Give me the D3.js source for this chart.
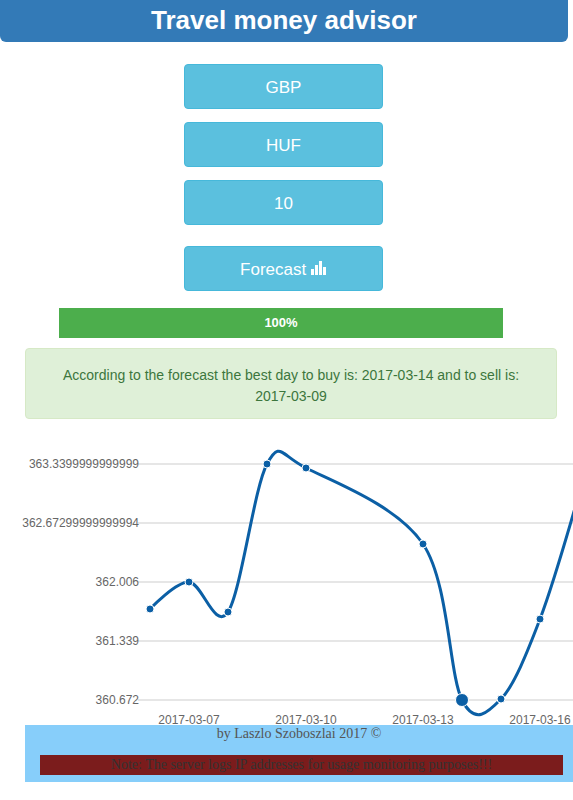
<!DOCTYPE html>
<html lang="en">
<head>
<meta charset="UTF-8">
<title>Travel money advisor</title>
<script src="https://d3js.org/d3.v7.min.js"></script>
<style>
  body { margin: 0; width: 573px; height: 800px; overflow: hidden; font-family: "Liberation Sans", Arial, sans-serif; background: #fff; position: relative; }
  .hdr { position: absolute; left: 0; top: 0; width: 568px; height: 42px; background: #337ab7; border-radius: 0 0 6px 6px; color: #fff; font-weight: bold; font-size: 26px; text-align: center; line-height: 40px; }
  .btn { position: absolute; left: 184px; width: 199px; height: 45px; background: #5bc0de; border: 1px solid #46b8da; border-radius: 4px; color: #fff; font-size: 17px; text-align: center; line-height: 45px; box-sizing: border-box; }
  .prog { position: absolute; left: 59px; top: 308px; width: 444px; height: 30px; background: #4cae4c; color: #fff; font-weight: bold; font-size: 13px; text-align: center; line-height: 30px; }
  .alert { position: absolute; left: 25px; top: 348px; width: 532px; height: 71px; background: #dff0d8; border: 1px solid #d6e9c6; border-radius: 4px; color: #3c763d; font-size: 14px; text-align: center; line-height: 21px; box-sizing: border-box; padding: 16px 20px 0; }
  .foot { position: absolute; left: 25px; top: 725px; width: 548px; height: 57px; background: #87cefa; font-family: "Liberation Serif", "Times New Roman", serif; }
  .foot .by { text-align: center; color: #555; font-size: 14px; margin-top: 1px; }
  .foot .note { position: absolute; left: 15px; top: 30px; width: 523px; height: 20px; background: #7b1c1c; color: #333; font-size: 14px; text-align: center; line-height: 20px; }
  svg { position: absolute; left: 0; top: 440px; }
</style>
</head>
<body>
<div class="hdr">Travel money advisor</div>
<div class="btn" style="top:64px">GBP</div>
<div class="btn" style="top:122px">HUF</div>
<div class="btn" style="top:180px">10</div>
<div class="btn" style="top:246px">Forecast <svg id="icon" width="16" height="16" style="position:static;vertical-align:-1px"></svg></div>
<div class="prog">100%</div>
<div class="alert">According to the forecast the best day to buy is: 2017-03-14 and to sell is: 2017-03-09</div>
<svg id="chart" width="573" height="290"></svg>
<div class="foot">
  <div class="by">by Laszlo Szoboszlai 2017 ©</div>
  <div class="note">Note: The server logs IP addresses for usage monitoring purposes!!!</div>
</div>
<script>
  var dates = ['2017-03-06', '2017-03-07', '2017-03-08', '2017-03-09', '2017-03-10',
               '2017-03-13', '2017-03-14', '2017-03-15', '2017-03-16', '2017-03-17'];
  var rates = [361.701, 362.006, 361.667, 363.34, 363.295, 362.436, 360.672, 360.683, 361.587, 363.0];
  var yTicks = [360.672, 361.339, 362.006, 362.67299999999994, 363.3399999999999];
  var xTicks = ['2017-03-07', '2017-03-10', '2017-03-13', '2017-03-16'];
  var bestBuy = '2017-03-14';

  // small bar chart icon on the Forecast button
  d3.select('#icon').selectAll('rect')
    .data([6, 10, 14, 8])
    .enter().append('rect')
    .attr('x', function (d, i) { return i * 4; })
    .attr('y', function (d) { return 15 - d; })
    .attr('width', 3)
    .attr('height', function (d) { return d; })
    .attr('fill', '#fff');

  var parse = d3.timeParse('%Y-%m-%d');
  var svg = d3.select('#chart');

  var x = d3.scaleTime()
    .domain([parse('2017-03-06'), parse('2017-03-17')])
    .range([150, 579]);
  var y = d3.scaleLinear()
    .domain([360.672, 363.3399999999999])
    .range([260, 24]);

  var grid = svg.append('g');
  grid.selectAll('line')
    .data(yTicks)
    .enter().append('line')
    .attr('x1', 138).attr('x2', 573)
    .attr('y1', function (d) { return y(d); })
    .attr('y2', function (d) { return y(d); })
    .attr('stroke', '#e6e6e6')
    .attr('stroke-width', 2);

  grid.selectAll('text')
    .data(yTicks)
    .enter().append('text')
    .attr('x', 139).attr('y', function (d) { return y(d) + 4; })
    .attr('text-anchor', 'end')
    .attr('fill', '#666')
    .attr('font-size', '12px')
    .text(function (d) { return String(d); });

  svg.append('g').selectAll('text')
    .data(xTicks)
    .enter().append('text')
    .attr('x', function (d) { return x(parse(d)); })
    .attr('y', 284)
    .attr('text-anchor', 'middle')
    .attr('fill', '#666')
    .attr('font-size', '12px')
    .text(function (d) { return d; });

  var pts = dates.map(function (d, i) { return { date: parse(d), key: d, v: rates[i] }; });

  var line = d3.line()
    .x(function (d) { return x(d.date); })
    .y(function (d) { return y(d.v); })
    .curve(d3.curveCardinal);

  svg.append('path')
    .datum(pts)
    .attr('d', line)
    .attr('fill', 'none')
    .attr('stroke', '#0b5fa5')
    .attr('stroke-width', 3);

  svg.append('g').selectAll('circle')
    .data(pts)
    .enter().append('circle')
    .attr('cx', function (d) { return x(d.date); })
    .attr('cy', function (d) { return y(d.v); })
    .attr('r', function (d) { return d.key === bestBuy ? 6.5 : 4; })
    .attr('fill', '#0b5fa5')
    .attr('stroke', '#fff')
    .attr('stroke-width', 1);
</script>
</body>
</html>
